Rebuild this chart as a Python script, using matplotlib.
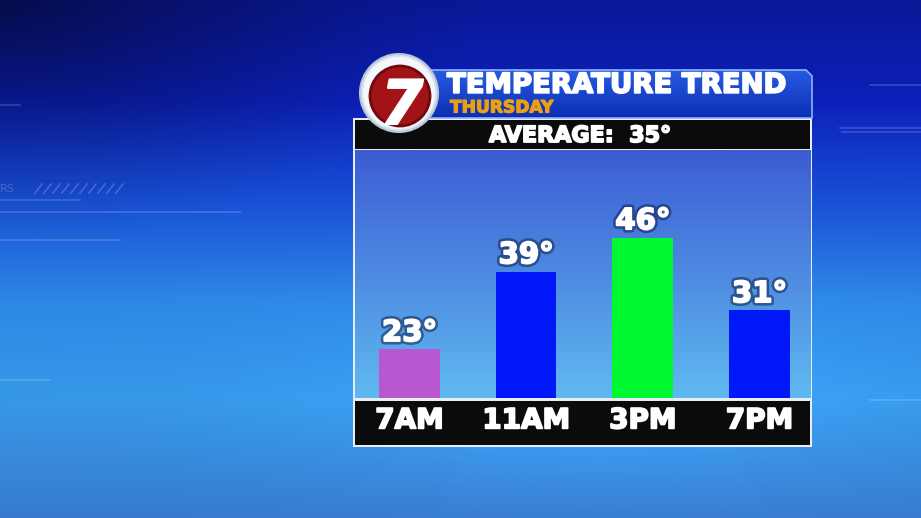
import numpy as np
import matplotlib
matplotlib.use("Agg")
import matplotlib.pyplot as plt
from matplotlib import patches, patheffects as pe

# ---- data ----
times = ["7AM", "11AM", "3PM", "7PM"]
temps = [23, 39, 46, 31]
bar_colors = ["#b857d0", "#0018f8", "#00f830", "#0018f8"]
title = "TEMPERATURE TREND"
subtitle = "THURSDAY"
average = 35

W, H = 921, 518
fig = plt.figure(figsize=(W / 100, H / 100), dpi=100)

# ---- background layer (pixel coordinates) ----
bg = fig.add_axes([0, 0, 1, 1])
bg.set_xlim(0, W)
bg.set_ylim(H, 0)
bg.axis("off")

yy, xx = np.mgrid[0:H, 0:W].astype(float)
keys_y = [0, 100, 200, 300, 400, 518]
keys_c = np.array([[10, 24, 150], [12, 32, 185], [24, 80, 215], [45, 135, 228],
                   [55, 152, 232], [55, 122, 205]]) / 255.0
img = np.zeros((H, W, 3))
for c in range(3):
    img[..., c] = np.interp(yy[:, 0], keys_y, keys_c[:, c])[:, None]
dark = np.clip(1 - np.hypot(xx / 480, yy / 250), 0, 1) ** 1.3 * 0.5
img = img * (1 - dark[..., None])
glow = np.exp(-(((xx - 600) / 280) ** 2 + ((yy - 400) / 110) ** 2)) * 0.10
img = np.clip(img + glow[..., None] * np.array([0.3, 0.6, 0.8]), 0, 1)
bg.imshow(img, extent=(0, W, H, 0), aspect="auto", zorder=0)

for (x0, y0, x1, y1) in [(0, 200, 80, 200), (0, 212, 240, 212), (840, 128, 921, 128),
                         (842, 132, 921, 132), (0, 240, 120, 240), (870, 85, 921, 85),
                         (0, 105, 20, 105), (0, 380, 50, 380), (870, 400, 921, 400)]:
    bg.plot([x0, x1], [y0, y1], color="white", alpha=0.18, lw=1.2, zorder=1)
for i in range(10):
    bg.plot([35 + i * 9, 42 + i * 9], [193, 184], color="white", alpha=0.2, lw=1.2, zorder=1)
bg.text(0, 189, "RS", color="white", alpha=0.2, fontsize=8, va="center", zorder=1)

# ---- panel ----
bg.add_patch(patches.Rectangle((353, 118), 459, 329, facecolor="#e8eef8",
                               edgecolor="none", zorder=2))
ca_top, ca_bot = 150, 398
grad = np.linspace(0, 1, 200)[:, None]
c_top = np.array([60, 92, 212]) / 255
c_bot = np.array([95, 185, 240]) / 255
gimg = (c_top[None, None, :] * (1 - grad[..., None]) + c_bot[None, None, :] * grad[..., None])
gimg = np.repeat(gimg, 2, axis=1)
bg.imshow(gimg, extent=(355, 810, ca_bot, ca_top), aspect="auto", zorder=3)
bg.add_patch(patches.Rectangle((355, 120), 455, 29, facecolor="#0b0b0b", zorder=3))
bg.add_patch(patches.Rectangle((355, 401), 455, 44, facecolor="#0b0b0b", zorder=3))

# header box
hx0, hx1, hy0, hy1 = 385, 812, 70, 118
pts = [(hx0, hy1), (hx0, hy0), (hx1 - 6, hy0), (hx1, hy0 + 6), (hx1, hy1)]
hdr_poly = patches.Polygon(pts, closed=True, facecolor="none", edgecolor="#8fb0ff", lw=1.2, zorder=5)
hg = np.linspace(0, 1, 100)[:, None]
h_top = np.array([38, 92, 225]) / 255
h_bot = np.array([12, 45, 180]) / 255
himg = h_top[None, None, :] * (1 - hg[..., None]) + h_bot[None, None, :] * hg[..., None]
himg = np.repeat(himg, 2, axis=1)
him = bg.imshow(himg, extent=(hx0, hx1, hy1, hy0), aspect="auto", zorder=4)
him.set_clip_path(patches.Polygon(pts, closed=True, transform=bg.transData))
bg.add_patch(hdr_poly)

thick = [pe.withStroke(linewidth=1.3, foreground="white")]
bg.text(447, 92.8, title, color="white", fontsize=19.8, fontweight="bold",
        ha="left", va="baseline", zorder=6, path_effects=thick)
bg.text(450, 112.5, subtitle, color="#eaa012", fontsize=12.3, fontweight="bold",
        ha="left", va="baseline", zorder=6,
        path_effects=[pe.withStroke(linewidth=0.9, foreground="#eaa012")])
bg.text(580, 142, f"AVERAGE:  {average}°", color="white", fontsize=16, fontweight="bold",
        ha="center", va="baseline", zorder=6, path_effects=thick)

# logo
cx, cy = 399, 93
bg.add_patch(patches.Circle((cx, cy), 39, facecolor="#dbe3ee", edgecolor="#b8c4d4", lw=1.5, zorder=7))
bg.add_patch(patches.Circle((cx, cy), 36, facecolor="#f4f7fb", edgecolor="none", zorder=7))
red = patches.Circle((cx + 1, cy + 3), 30, facecolor="#a11317", edgecolor="#6e080c", lw=2, zorder=8)
bg.add_patch(red)
seven = bg.text(cx + 3, cy + 31, "7", color="white", fontsize=44, fontweight="bold", style="italic",
                ha="center", va="baseline", zorder=9,
                path_effects=[pe.withStroke(linewidth=1.5, foreground="white")])
seven.set_clip_path(patches.Circle((cx + 1, cy + 3), 29, transform=bg.transData))

# ---- chart axes ----
left_px, right_px = 355, 810
ax = fig.add_axes([left_px / W, (H - ca_bot) / H, (right_px - left_px) / W, (ca_bot - ca_top) / H])
ax.set_facecolor("none")
x = np.arange(len(times))
ax.bar(x, temps, width=0.52, color=bar_colors, zorder=2)
ax.set_xlim(-0.467, 3.433)
ax.set_ylim(13, 64)
for s in ax.spines.values():
    s.set_visible(False)
ax.set_yticks([])
ax.set_xticks(x)
ax.set_xticklabels(times, color="white", fontsize=20, fontweight="bold")
for lab in ax.get_xticklabels():
    lab.set_path_effects(thick)
ax.tick_params(axis="x", length=0, pad=6)

shadow = [pe.withStroke(linewidth=5, foreground=(0.05, 0.1, 0.25, 0.5)),
          pe.withStroke(linewidth=1.3, foreground="white")]
for xi, t in zip(x, temps):
    ax.annotate(f"{t}°", (xi, t), xytext=(0, 6), textcoords="offset points",
                ha="center", va="baseline", color="white", fontsize=21,
                fontweight="bold", path_effects=shadow, zorder=3)

fig.savefig("out.png", dpi=100)
